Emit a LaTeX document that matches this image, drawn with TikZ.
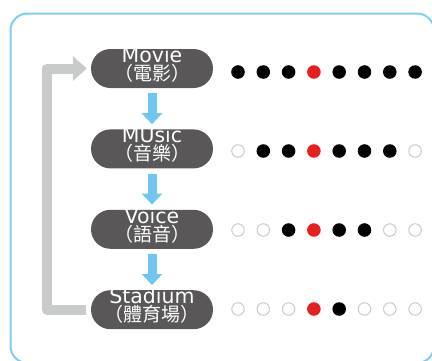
\documentclass[tikz,border=0pt]{standalone}
\usepackage{fontspec}
\setmainfont{DejaVu Sans}
\newfontfamily\cjk{Noto Sans CJK TC}
\usetikzlibrary{arrows.meta,positioning}
\definecolor{pillgray}{HTML}{595757}
\definecolor{flowblue}{HTML}{6FC6EE}
\definecolor{frameblue}{HTML}{7ECEF4}
\definecolor{loopgray}{HTML}{C9CACA}
\definecolor{fillb}{HTML}{000000}
\definecolor{lineb}{HTML}{000000}
\definecolor{fillr}{HTML}{E61F1F}
\definecolor{liner}{HTML}{E61F1F}
\definecolor{fillo}{HTML}{FFFFFF}
\definecolor{lineo}{HTML}{C9CACA}
\tikzset{pill/.style={rounded corners=19.5pt,fill=pillgray,minimum width=122pt,minimum height=39pt,inner sep=0pt}}
\tikzset{dot/.style={circle,minimum size=12.5pt,inner sep=0pt,line width=1pt,fill=fill#1,draw=line#1}}
\newcommand{\Mode}[3]{%
  \node (#1-en) [en] at ([yshift=6.3pt]#1.center) {#2};
  \node (#1-zh) [zh] at ([yshift=-12pt]#1.center) {#3};
}

\begin{document}
\begin{tikzpicture}[x=1pt,y=-1pt,
  en/.style={text=white,font=\fontsize{20.5}{21}\selectfont,anchor=base,inner sep=0pt,text height=14pt,text depth=0pt},
  zh/.style={text=white,font=\cjk\fontsize{19}{19}\selectfont,anchor=base,inner sep=0pt,text height=14pt,text depth=1pt},
  flow/.style={draw=flowblue,line width=9pt,-{Triangle[width=20pt,length=11pt]},shorten <=5pt,shorten >=5pt},
  back/.style={draw=loopgray,line width=10pt,line join=round,-{Triangle[width=24pt,length=14pt]}}]
\useasboundingbox (0,0) rectangle (432,360);
% \draw[help lines] (0,0) grid (432,360);
\draw[frameblue,line width=2pt,rounded corners=17pt] (10.5,13.5) rectangle (434,363);
\node (movie) [pill] at (152,68.5) {};
\node (music) [pill,below=41pt of movie] {};
\node (voice) [pill,below=41pt of music] {};
\node (stadium) [pill,below=41pt of voice] {};
\Mode{movie}{Movie}{（電影）}
\Mode{music}{MUsic}{（音樂）}
\Mode{voice}{Voice}{（語音）}
\Mode{stadium}{Stadium}{（體育場）}
%
\draw[flow] (movie) -- (music);
\draw[flow] (music) -- (voice);
\draw[flow] (voice) -- (stadium);
\draw[back,shorten <=5pt,shorten >=4pt] (stadium.west) -- ++(-44,0) |- (movie.west);
%
\foreach \s [count=\i] in {b,b,b,r,b,b,b,b}
  \node (movie-\i) [dot=\s] at ({212.7+25.3*\i},72) {};
\foreach \s [count=\i] in {o,b,b,r,b,b,b,o}
  \node (music-\i) [dot=\s] at ({212.7+25.3*\i},151) {};
\foreach \s [count=\i] in {o,o,b,r,b,b,o,o}
  \node (voice-\i) [dot=\s] at ({212.7+25.3*\i},230) {};
\foreach \s [count=\i] in {o,o,o,r,b,o,o,o}
  \node (stadium-\i) [dot=\s] at ({212.7+25.3*\i},309) {};
\end{tikzpicture}
\end{document}
